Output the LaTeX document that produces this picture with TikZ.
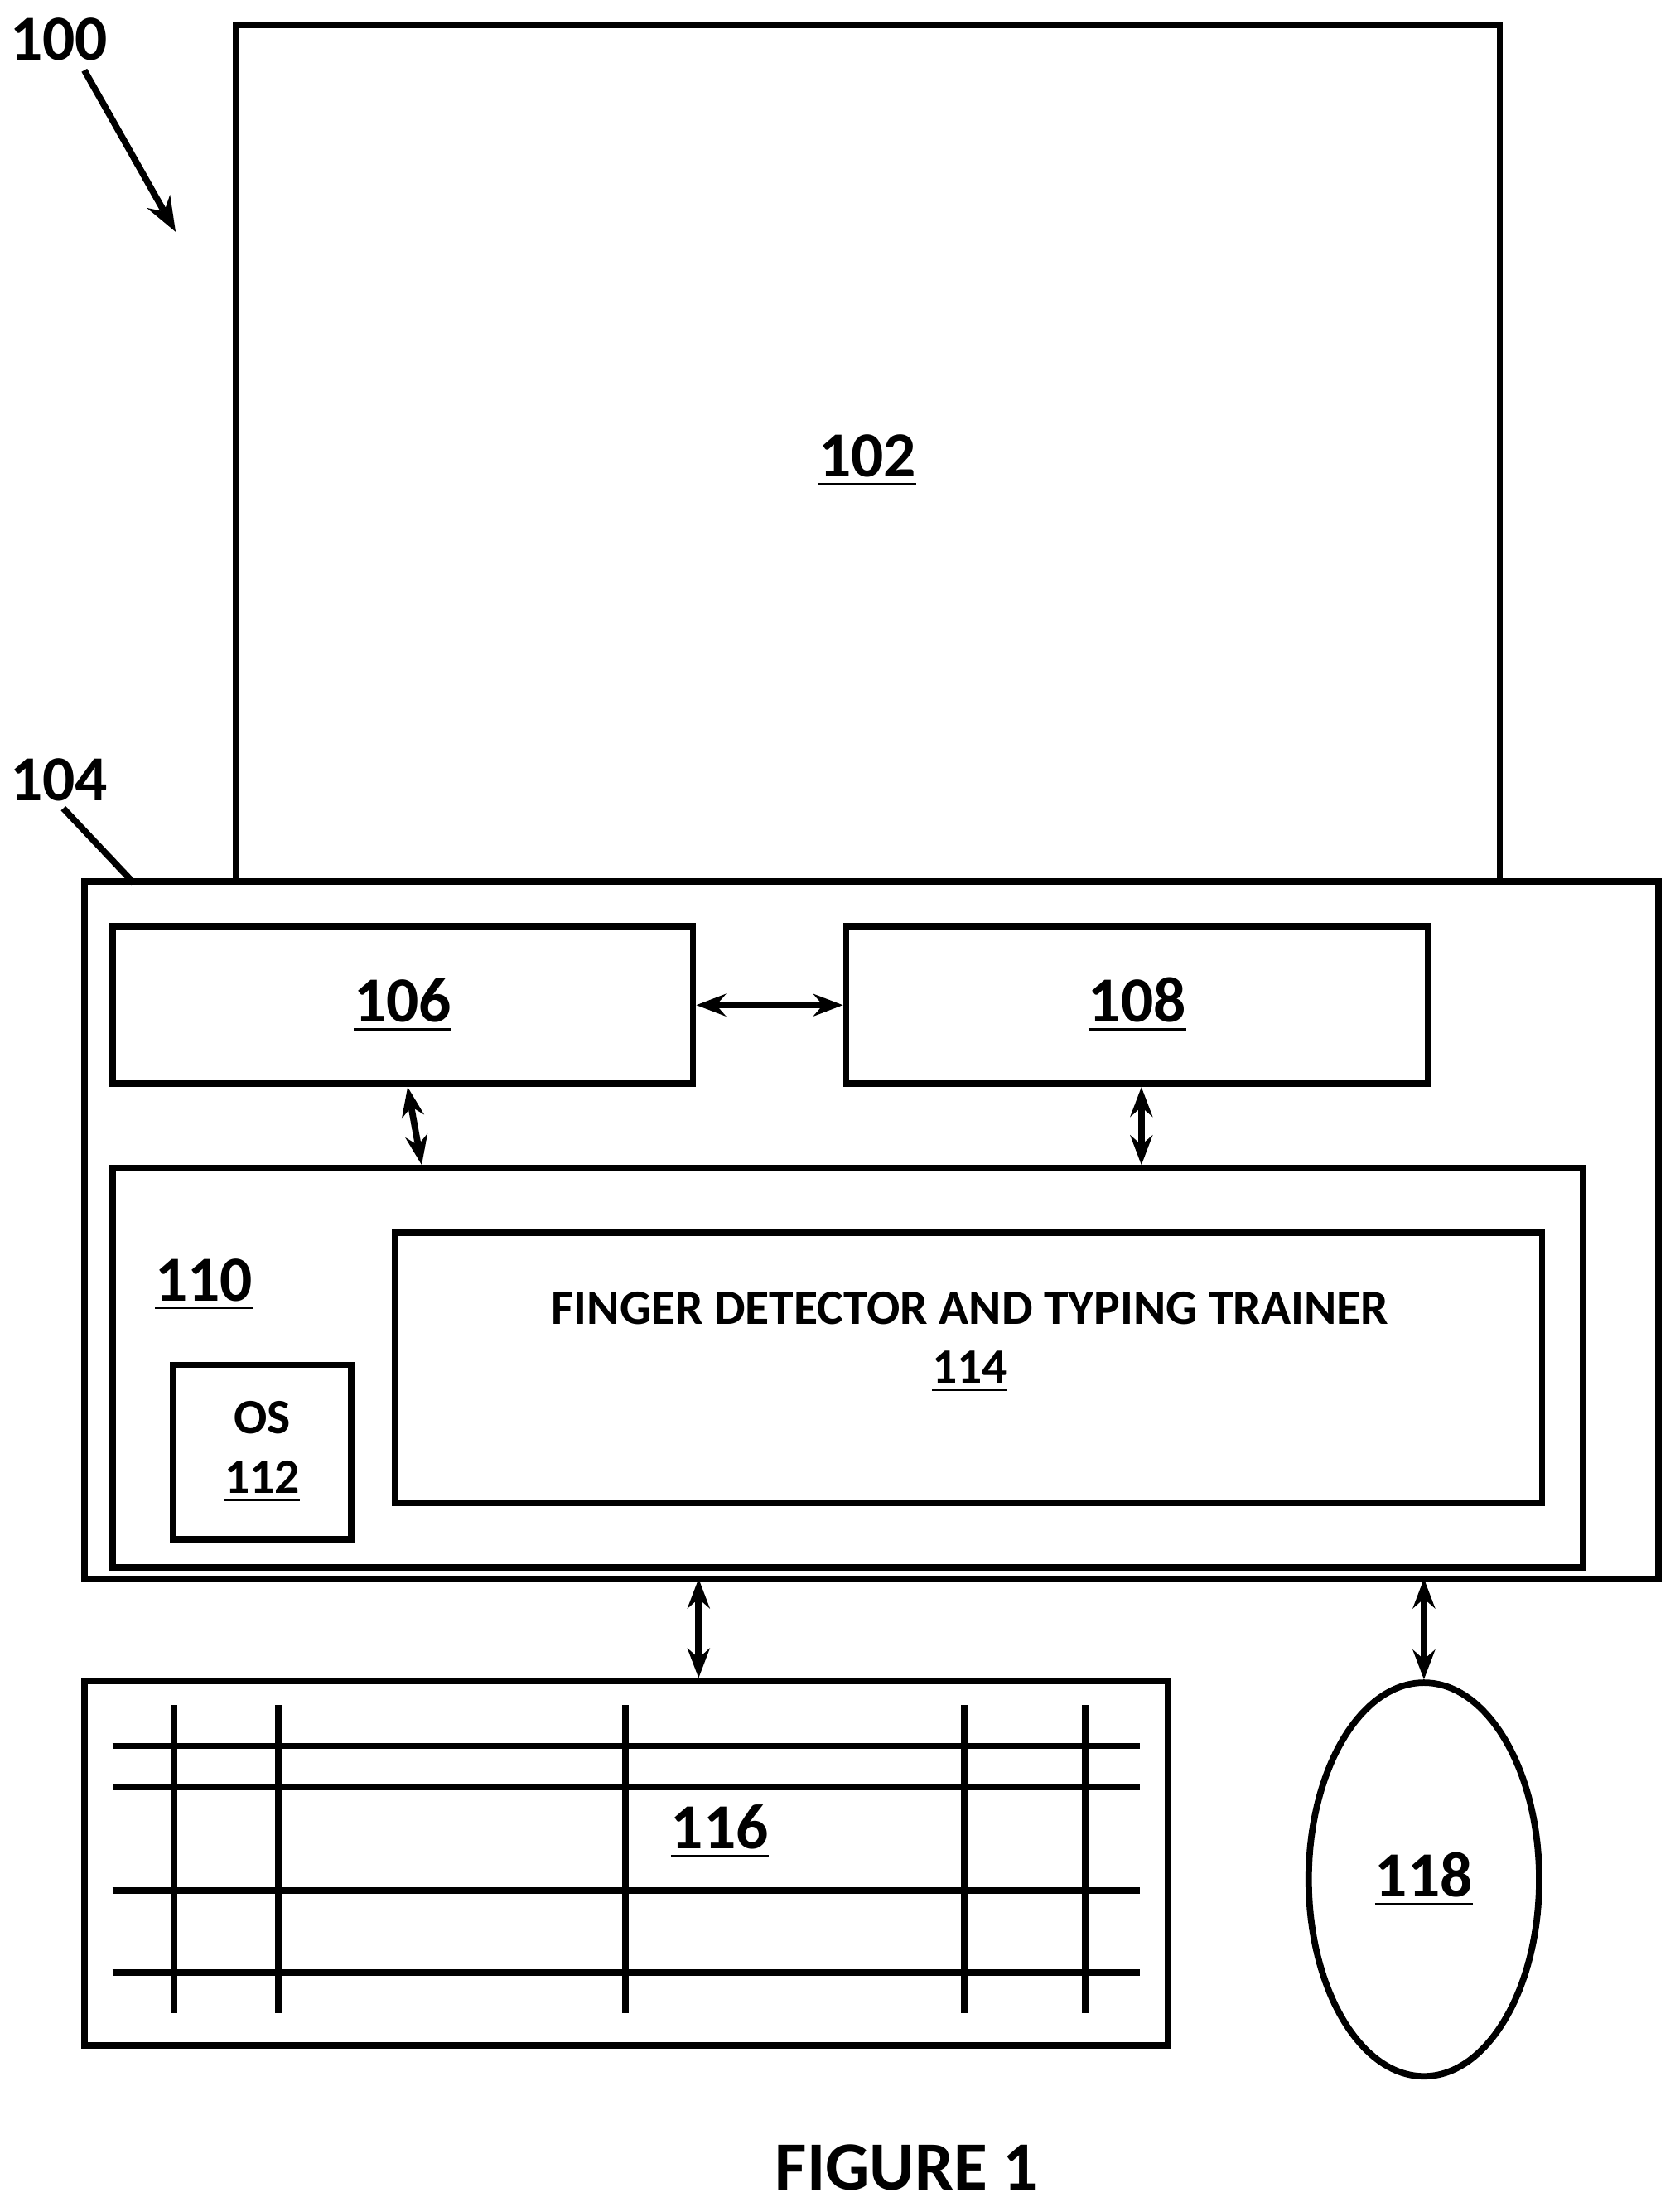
\documentclass[tikz,border=0pt]{standalone}
\usepackage{fontspec}
\setmainfont{Carlito}
\usetikzlibrary{arrows.meta,shapes.geometric}
\tikzset{
  box/.style={draw,line width=1.3pt,rectangle,inner sep=0pt},
  num/.style={font=\bfseries\fontsize{13}{15}\selectfont},
  link/.style={line width=1.3pt,{Stealth[length=6pt]}-{Stealth[length=6pt]}},
}
\newcommand{\refnum}[1]{\underline{#1}}
\begin{document}
\begin{tikzpicture}[x=0.1mm,y=-0.1mm]
  \useasboundingbox (0,0) rectangle (1195,1570);
  % reference labels
  \node[num] (l100) at (42,28) {100};
  \coordinate (a100) at (125,165);
  \draw[line width=1.3pt,-{Stealth[length=7pt]}] (60,50) -- (a100);
  \node[num] (l104) at (42,555) {104};
  \coordinate (a104) at (95,628);
  \draw[line width=1.3pt] (45,575) -- (a104);
  % monitor
  \draw[line width=1.3pt] (168,627) -- (168,18) -- (1067,18) -- (1067,627);
  \node[num] (n102) at (617,328) {\refnum{102}};
  % base unit
  \draw[box] (60,627) rectangle (1180,1123);
  \node[box,minimum width=41.3mm,minimum height=11.2mm,num] (n106) at (286.5,715) {\refnum{106}};
  \node[box,minimum width=41.4mm,minimum height=11.2mm,num] (n108) at (809,715) {\refnum{108}};
  \node[box,minimum width=104.6mm,minimum height=28.4mm] (n110) at (603,973) {};
  \node[num] (l110) at (145,914) {\refnum{110}};
  \node[box,minimum width=12.7mm,minimum height=12.4mm,align=center,
        font=\bfseries\fontsize{10}{12}\selectfont] (n112) at (186.5,1033) {OS\\\refnum{112}};
  \node[box,minimum width=81.6mm,minimum height=19.2mm] (n114) at (689,973) {};
  \node[font=\bfseries\fontsize{10}{12}\selectfont,align=center] (t114) at (690,955)
    {FINGER DETECTOR AND TYPING TRAINER\\\refnum{114}};
  \draw[link] (n106.east) -- (n108.west);
  \draw[link] (n106.south -| 290,0) -- (n110.north -| 300,0);
  \draw[link] (n108.south -| 812,0) -- (n110.north -| 812,0);
  % keyboard
  \node[box,minimum width=77.1mm,minimum height=25.9mm] (n116) at (445.5,1325.5) {};
  \foreach \yy in {1242,1271,1345,1403}
    \draw[line width=1.3pt] (80,\yy) -- (811,\yy);
  \foreach \xx in {124,198,445,686,772}
    \draw[line width=1.3pt] (\xx,1213) -- (\xx,1432);
  \node[num,fill=white,inner sep=1pt] at (512,1303) {\refnum{116}};
  % mouse
  \node[draw,line width=1.3pt,ellipse,minimum width=16.4mm,minimum height=28mm,num] (n118) at (1013,1337) {\refnum{118}};
  \coordinate (b116) at (497,1123);
  \coordinate (b118) at (1013,1123);
  \draw[link] (b116) -- (n116.north -| 497,0);
  \draw[link] (b118) -- (n118.north);
  \node[font=\bfseries\fontsize{14}{16}\selectfont] (fig) at (645,1542) {FIGURE 1};
\end{tikzpicture}
\end{document}
